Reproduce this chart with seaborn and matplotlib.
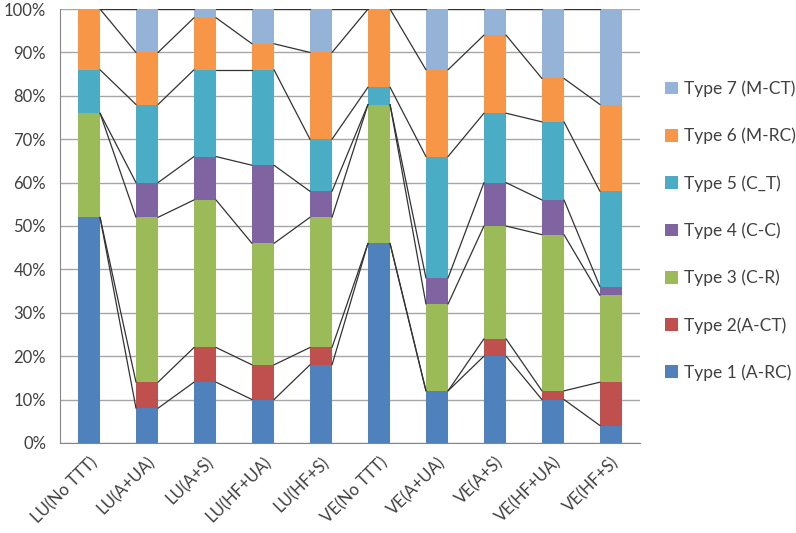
import numpy as np
import matplotlib
matplotlib.use("Agg")
import matplotlib.pyplot as plt
from matplotlib.patches import Patch
import seaborn as sns

categories = ["LU(No TTT)", "LU(A+UA)", "LU(A+S)", "LU(HF+UA)", "LU(HF+S)",
              "VE(No TTT)", "VE(A+UA)", "VE(A+S)", "VE(HF+UA)", "VE(HF+S)"]

type_names = ["Type 1 (A-RC)", "Type 2(A-CT)", "Type 3 (C-R)", "Type 4 (C-C)",
              "Type 5 (C_T)", "Type 6 (M-RC)", "Type 7 (M-CT)"]

# percent share of each type per group
type1 = [52, 8, 14, 10, 18, 46, 12, 20, 10, 4]
type2 = [0, 6, 8, 8, 4, 0, 0, 4, 2, 10]
type3 = [24, 38, 34, 28, 30, 32, 20, 26, 36, 20]
type4 = [0, 8, 10, 18, 6, 0, 6, 10, 8, 2]
type5 = [10, 18, 20, 22, 12, 4, 28, 16, 18, 22]
type6 = [14, 12, 12, 6, 20, 18, 20, 18, 10, 20]
type7 = [0, 10, 2, 8, 10, 0, 14, 6, 16, 22]

colors = ["#4F81BD", "#C0504D", "#9BBB59", "#8064A2", "#4BACC6", "#F79646", "#95B3D7"]

sns.set_style("white")
plt.rcParams["font.family"] = ["Lato", "DejaVu Sans"]

series = [type1, type2, type3, type4, type5, type6, type7]
cum = np.cumsum(np.array(series, dtype=float), axis=0)

fig = plt.figure(figsize=(7.96, 5.33), dpi=100)
ax = fig.add_axes([0.0754, 0.169, 0.7286, 0.814])

bw = 0.38
# draw from the top cumulative down so each layer covers the one above
for k in range(len(series) - 1, -1, -1):
    sns.barplot(x=categories, y=cum[k], color=colors[k], saturation=1,
                width=bw, errorbar=None, ax=ax, zorder=2, linewidth=0)

# series lines between bars
for k in range(len(series)):
    for i in range(len(categories) - 1):
        ax.plot([i + bw / 2, i + 1 - bw / 2], [cum[k][i], cum[k][i + 1]],
                color="#333333", lw=0.9, zorder=3)

ax.set_xlim(-0.5, len(categories) - 0.5)
ax.set_ylim(0, 100)
ax.set_yticks(range(0, 101, 10))
ax.set_yticklabels([f"{v}%" for v in range(0, 101, 10)], fontsize=12, color="#404040")
ax.yaxis.grid(True, color="#A6A6A6", lw=1, zorder=0)
ax.set_axisbelow(True)

ax.set_xticks(np.arange(-0.5, len(categories), 1))
ax.set_xticklabels([])
ax.set_xticks(range(len(categories)), minor=True)
ax.set_xticklabels(categories, minor=True, rotation=45, ha="right",
                   rotation_mode="anchor", fontsize=12, color="#404040")
ax.tick_params(axis="x", which="minor", length=0, pad=8)
ax.tick_params(axis="x", which="major", length=5, color="#868686", direction="out")
ax.tick_params(axis="y", length=4, color="#868686", direction="out", pad=6)

for s in ["top", "right"]:
    ax.spines[s].set_visible(False)
for s in ["left", "bottom"]:
    ax.spines[s].set_color("#868686")

handles = [Patch(facecolor=colors[k], edgecolor="none", label=type_names[k])
           for k in range(len(series) - 1, -1, -1)]
fig.legend(handles=handles, loc="upper left", bbox_to_anchor=(0.835, 0.849),
           frameon=False, fontsize=12.5, handlelength=0.75, handleheight=0.75,
           handletextpad=0.35, labelspacing=1.77, labelcolor="#404040",
           borderaxespad=0, borderpad=0)

fig.savefig("out.png", dpi=100)
